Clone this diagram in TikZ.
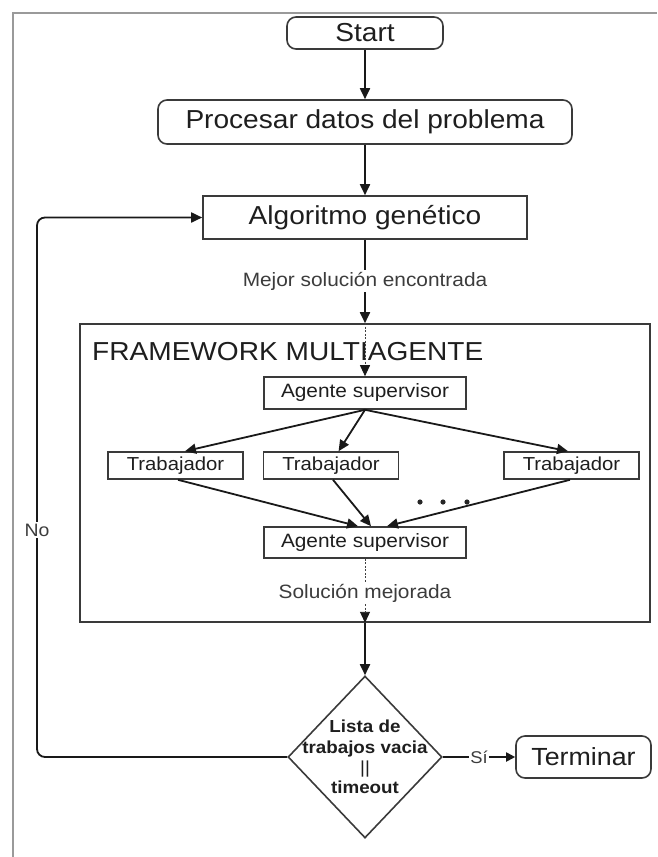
\documentclass[tikz,border=0pt]{standalone}
\usepackage{fontspec}
\setmainfont{Liberation Sans}[FakeStretch=1.08]
\usetikzlibrary{arrows.meta,shapes.geometric,calc}
\definecolor{boxline}{HTML}{3A3A3A}
\definecolor{txt}{HTML}{1E1E1E}
\definecolor{lbl}{HTML}{3C3C3C}
\definecolor{outer}{HTML}{9A9A9A}
\tikzset{
  base/.style={draw=boxline, line width=1.6pt, inner sep=0pt, text=txt, align=center},
  roundbox/.style={base, rounded corners=9pt},
  sqbox/.style={base},
  bigtext/.style={font=\fontsize{26}{30}\selectfont},
  midtext/.style={font=\fontsize{19.3}{22}\selectfont},
  trabtext/.style={font=\fontsize{18.8}{22}\selectfont},
  lab/.style={fill=white, inner sep=1.5pt, text=lbl, font=\fontsize{19.3}{22}\selectfont},
  arr/.style={draw=black!90, line width=1.8pt, -{Triangle[length=11pt,width=10pt]}},
  darr/.style={draw=black!75, line width=0.9pt, dash pattern=on 2pt off 1.5pt, -{Triangle[length=11pt,width=10pt,color=black!90]}},
  plain/.style={draw=black!90, line width=1.8pt},
}
\begin{document}
\begin{tikzpicture}[x=1pt,y=-1pt]
\useasboundingbox (0,0) rectangle (657,857);
% outer partial frame
\draw[outer, line width=2pt] (13,857) -- (13,13) -- (657,13);

% main nodes
\node[roundbox, bigtext, minimum width=156, minimum height=32] (start) at (365,33) {Start};
\node[roundbox, bigtext, minimum width=414, minimum height=44] (proc) at (365,122) {Procesar datos del problema};
\node[sqbox, bigtext, minimum width=324, minimum height=43] (alg) at (365,217.5) {Algoritmo genético};

% framework container
\node[draw=boxline, line width=1.6pt, minimum width=570, minimum height=298, inner sep=0pt] (frame) at (365,473) {};
\node[anchor=base west, text=txt, bigtext, inner sep=0pt] (ftitle) at (92,360) {FRAMEWORK MULTIAGENTE};

\node[sqbox, midtext, minimum width=202, minimum height=32] (sup1) at (365,393) {Agente supervisor};
\node[sqbox, trabtext, minimum width=135, minimum height=27] (trabL) at (175.5,465.5) {Trabajador};
\node[sqbox, trabtext, minimum width=135, minimum height=27] (trabM) at (331,465.5) {Trabajador};
\node[sqbox, trabtext, minimum width=135, minimum height=27] (trabR) at (571.5,465.5) {Trabajador};
\node[sqbox, midtext, minimum width=202, minimum height=31] (sup2) at (365,542.5) {Agente supervisor};

% decision and end
\node[diamond, draw=boxline, line width=1.6pt, minimum width=154, minimum height=162, inner sep=0pt] (dec) at (365,757) {};
\node[align=center, text=txt, font=\bfseries\fontsize{17.4}{20.3}\selectfont, inner sep=0pt] (dectext) at (dec.center) {Lista de\\trabajos vacia\\{\mdseries||}\\timeout};
\node[roundbox, font=\fontsize{24.8}{28}\selectfont, minimum width=135, minimum height=42] (term) at (583.5,757) {Terminar};

% connectors
\draw[arr] (start) -- (proc);
\draw[arr] (proc) -- (alg);
\draw[arr] (alg) -- (frame.north);
\node[lab] (mejor) at (365,281) {Mejor solución encontrada};
\draw[darr] (frame.north) -- (sup1);

\draw[arr] (sup1.south) -- ($(trabL.north)+(9.5,0)$);
\draw[arr] (sup1.south) -- ($(trabM.north)+(7.6,0)$);
\draw[arr] (sup1.south) -- ($(trabR.north)+(-3.5,0)$);

\draw[arr] ($(trabL.south)+(2.5,0)$) -- ($(sup2.north)+(-7,0)$);
\draw[arr] ($(trabM.south)+(2,0)$) -- ($(sup2.north)+(6,0)$);
\draw[arr] ($(trabR.south)+(-1.5,0)$) -- ($(sup2.north)+(22,0)$);

\fill[black!85] (420,502) circle (2.6) (443,502) circle (2.6) (467,502) circle (2.6);

\draw[darr] (sup2.south) -- (frame.south);
\node[lab] (mejorada) at (365,593) {Solución mejorada};
\draw[arr] (frame.south) -- (dec.north);

% loop back
\coordinate (lp) at (37,757);
\draw[arr, rounded corners=8pt] (dec.west) -- (lp) |- (alg.west);
\node[lab, font=\fontsize{18}{20}\selectfont] (no) at (37,530) {No};

% yes branch
\node[text=lbl, inner sep=1pt, font=\fontsize{17}{20}\selectfont] (si) at (479,757) {Sí};
\draw[plain] (dec.east) -- (si.west);
\draw[draw=black!90, line width=1.8pt, -{Triangle[length=9pt,width=9pt]}] (si.east) -- (term.west);
\end{tikzpicture}
\end{document}
